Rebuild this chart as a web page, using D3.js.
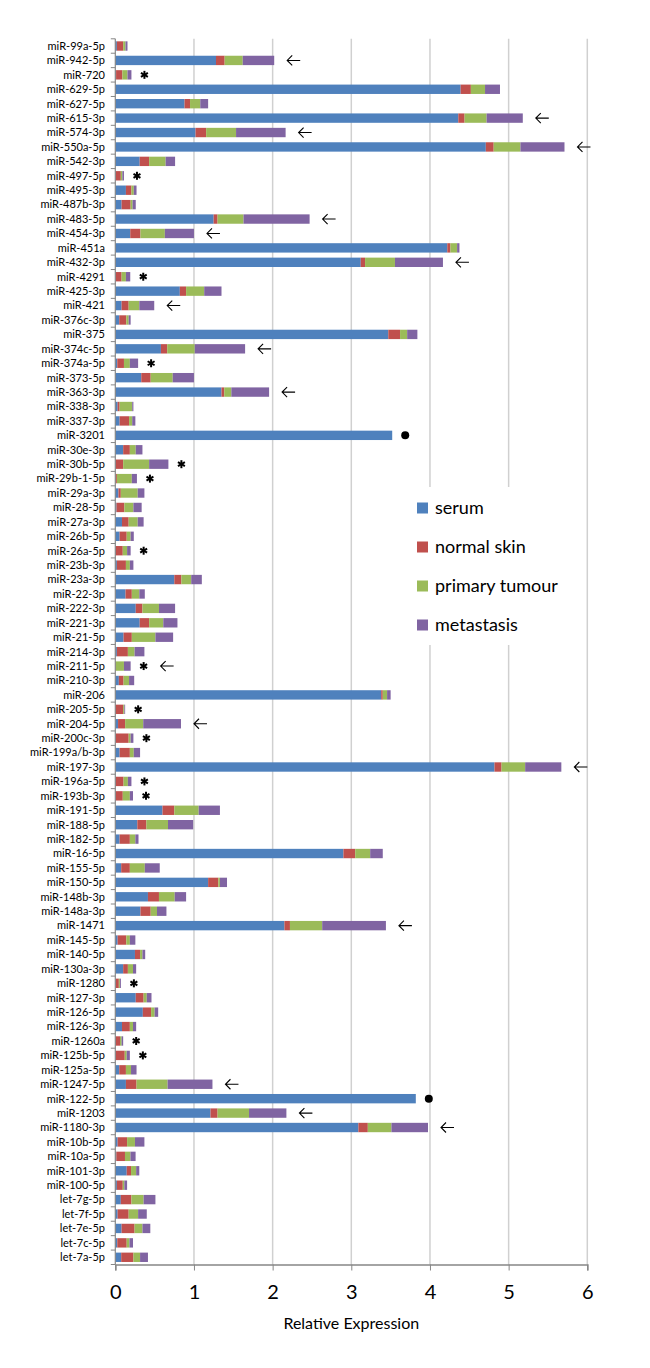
<!DOCTYPE html>
<html>
<head>
<meta charset="utf-8">
<script src="https://cdn.jsdelivr.net/npm/d3@7/dist/d3.min.js"></script>
<style>
  html, body { margin: 0; padding: 0; background: #fff; }
  svg { display: block; }
  text { font-family: Lato, "Open Sans", sans-serif; fill: #000; }
</style>
</head>
<body>
<svg id="chart" width="650" height="1368"></svg>
<script>
const categories = ["miR-99a-5p","miR-942-5p","miR-720","miR-629-5p","miR-627-5p","miR-615-3p","miR-574-3p","miR-550a-5p","miR-542-3p","miR-497-5p","miR-495-3p","miR-487b-3p","miR-483-5p","miR-454-3p","miR-451a","miR-432-3p","miR-4291","miR-425-3p","miR-421","miR-376c-3p","miR-375","miR-374c-5p","miR-374a-5p","miR-373-5p","miR-363-3p","miR-338-3p","miR-337-3p","miR-3201","miR-30e-3p","miR-30b-5p","miR-29b-1-5p","miR-29a-3p","miR-28-5p","miR-27a-3p","miR-26b-5p","miR-26a-5p","miR-23b-3p","miR-23a-3p","miR-22-3p","miR-222-3p","miR-221-3p","miR-21-5p","miR-214-3p","miR-211-5p","miR-210-3p","miR-206","miR-205-5p","miR-204-5p","miR-200c-3p","miR-199a/b-3p","miR-197-3p","miR-196a-5p","miR-193b-3p","miR-191-5p","miR-188-5p","miR-182-5p","miR-16-5p","miR-155-5p","miR-150-5p","miR-148b-3p","miR-148a-3p","miR-1471","miR-145-5p","miR-140-5p","miR-130a-3p","miR-1280","miR-127-3p","miR-126-5p","miR-126-3p","miR-1260a","miR-125b-5p","miR-125a-5p","miR-1247-5p","miR-122-5p","miR-1203","miR-1180-3p","miR-10b-5p","miR-10a-5p","miR-101-3p","miR-100-5p","let-7g-5p","let-7f-5p","let-7e-5p","let-7c-5p","let-7a-5p"];

const serum = [0.02,1.28,0.01,4.39,0.88,4.36,1.02,4.71,0.31,0.005,0.135,0.08,1.25,0.19,4.22,3.12,0.005,0.82,0.08,0.05,3.47,0.58,0.025,0.33,1.35,0.03,0.055,3.52,0.10,0.005,0.005,0.04,0.015,0.085,0.055,0.005,0.02,0.75,0.13,0.26,0.31,0.105,0.02,0,0.045,3.38,0,0.035,0.005,0.055,4.82,0.005,0.005,0.60,0.28,0.055,2.90,0.075,1.18,0.415,0.32,2.15,0.03,0.25,0.10,0.005,0.26,0.35,0.085,0.005,0.005,0.05,0.135,3.82,1.21,3.09,0.03,0.013,0.145,0.02,0.07,0.03,0.08,0.025,0.075];

const normalSkin = [0.08,0.11,0.08,0.13,0.07,0.08,0.135,0.10,0.12,0.065,0.07,0.115,0.05,0.13,0.04,0.055,0.075,0.08,0.09,0.09,0.15,0.08,0.085,0.12,0.035,0.025,0.12,0,0.085,0.095,0.015,0.03,0.10,0.085,0.09,0.09,0.115,0.09,0.08,0.085,0.12,0.105,0.14,0.005,0.06,0.02,0.10,0.09,0.165,0.13,0.09,0.10,0.09,0.15,0.115,0.13,0.15,0.11,0.13,0.14,0.13,0.07,0.11,0.065,0.06,0.04,0.10,0.105,0.10,0.055,0.115,0.085,0.135,0,0.09,0.12,0.12,0.11,0.055,0.075,0.135,0.14,0.165,0.12,0.155];

const primaryTumour = [0.03,0.23,0.065,0.18,0.13,0.28,0.38,0.34,0.21,0.02,0.03,0.025,0.33,0.31,0.085,0.38,0.055,0.23,0.135,0.03,0.09,0.35,0.075,0.28,0.09,0.16,0.04,0,0.075,0.33,0.19,0.215,0.115,0.115,0.05,0.055,0.05,0.125,0.095,0.21,0.18,0.30,0.085,0.105,0.07,0.055,0.015,0.23,0.025,0.05,0.30,0.055,0.09,0.31,0.275,0.07,0.19,0.19,0.02,0.20,0.08,0.41,0.045,0.03,0.065,0.013,0.04,0.045,0.04,0.02,0.025,0.065,0.395,0,0.40,0.30,0.10,0.07,0.065,0.02,0.155,0.12,0.10,0.035,0.085];

const metastasis = [0.025,0.40,0.05,0.19,0.10,0.46,0.63,0.56,0.12,0.02,0.035,0.04,0.84,0.37,0.03,0.61,0.055,0.22,0.19,0.025,0.13,0.64,0.105,0.27,0.48,0.015,0.04,0,0.085,0.245,0.065,0.085,0.105,0.075,0.04,0.045,0.045,0.135,0.07,0.205,0.18,0.225,0.125,0.085,0.065,0.045,0.01,0.48,0.035,0.08,0.46,0.045,0.04,0.27,0.32,0.04,0.16,0.19,0.09,0.145,0.12,0.81,0.07,0.035,0.04,0.013,0.06,0.045,0.04,0.02,0.04,0.07,0.57,0,0.475,0.465,0.12,0.065,0.04,0.035,0.15,0.11,0.10,0.045,0.10];

const seriesNames = ["serum","normal skin","primary tumour","metastasis"];
const seriesColors = ["#4F81BD","#C0504D","#9BBB59","#8064A2"];
const xTicks = [0,1,2,3,4,5,6];
const xLabel = "Relative Expression";

const arrowCats = ["miR-942-5p","miR-615-3p","miR-574-3p","miR-550a-5p","miR-483-5p","miR-454-3p","miR-432-3p","miR-421","miR-374c-5p","miR-363-3p","miR-211-5p","miR-204-5p","miR-197-3p","miR-1471","miR-1247-5p","miR-1203","miR-1180-3p"];
const starCats = ["miR-720","miR-497-5p","miR-4291","miR-374a-5p","miR-30b-5p","miR-29b-1-5p","miR-26a-5p","miR-211-5p","miR-205-5p","miR-200c-3p","miR-196a-5p","miR-193b-3p","miR-1280","miR-1260a","miR-125b-5p"];
const dotCats = ["miR-3201","miR-122-5p"];

const rows = categories.map((c, i) => ({
  cat: c,
  "serum": serum[i],
  "normal skin": normalSkin[i],
  "primary tumour": primaryTumour[i],
  "metastasis": metastasis[i]
}));

const svg = d3.select("#chart");
const plotLeft = 115.3, plotRight = 587.3, plotTop = 38.8, plotBottom = 1264.5;

const x = d3.scaleLinear().domain([0, 6]).range([plotLeft, plotRight]);
const y = d3.scaleBand().domain(categories).range([plotTop, plotBottom]).paddingInner(0.35).paddingOuter(0.175);
const color = d3.scaleOrdinal().domain(seriesNames).range(seriesColors);

// gridlines
svg.append("g").selectAll("line").data(xTicks.filter(d => d > 0)).join("line")
  .attr("x1", d => x(d)).attr("x2", d => x(d))
  .attr("y1", plotTop).attr("y2", plotBottom)
  .attr("stroke", "#d0d0d0").attr("stroke-width", 1.5);

// stacked bars
const stack = d3.stack().keys(seriesNames);
const stacked = stack(rows);
svg.append("g").selectAll("g").data(stacked).join("g")
  .attr("fill", d => color(d.key))
  .selectAll("rect").data(d => d).join("rect")
  .attr("x", d => x(d[0]))
  .attr("y", d => y(d.data.cat))
  .attr("width", d => Math.max(0, x(d[1]) - x(d[0])))
  .attr("height", y.bandwidth());

// legend with white background
const lg = svg.append("g");
lg.append("rect").attr("x", 410).attr("y", 487).attr("width", 173).attr("height", 158).attr("fill", "#fff");
seriesNames.forEach((s, i) => {
  const cy = 508 + i * 39;
  lg.append("rect").attr("x", 417).attr("y", cy - 5.5).attr("width", 11).attr("height", 11).attr("fill", color(s));
  lg.append("text").attr("x", 435).attr("y", cy).attr("dy", "0.35em")
    .style("font-size", "18px").text(s);
});

// y axis
const yAxis = svg.append("g");
yAxis.append("line").attr("x1", plotLeft).attr("x2", plotLeft).attr("y1", plotTop).attr("y2", plotBottom)
  .attr("stroke", "#878787").attr("stroke-width", 1.2);
const bounds = d3.range(categories.length + 1).map(i => plotTop + i * y.step());
yAxis.selectAll("line.tick").data(bounds).join("line").attr("class", "tick")
  .attr("x1", plotLeft - 4.5).attr("x2", plotLeft).attr("y1", d => d).attr("y2", d => d)
  .attr("stroke", "#878787").attr("stroke-width", 1);
yAxis.selectAll("text").data(categories).join("text")
  .attr("x", 105).attr("y", d => y(d) + y.bandwidth() / 2).attr("dy", "0.35em")
  .attr("text-anchor", "end").style("font-size", "11px").text(d => d);

// x axis
const xAxis = svg.append("g").attr("transform", `translate(0,${plotBottom})`)
  .call(d3.axisBottom(x).tickValues(xTicks).tickSize(6).tickPadding(14).tickFormat(d3.format("d")));
xAxis.select(".domain").attr("stroke", "#878787").attr("stroke-width", 1.5);
xAxis.selectAll(".tick line").attr("stroke", "#878787");
xAxis.selectAll(".tick text").style("font-size", "20px").style("font-family", "Lato, 'Open Sans', sans-serif").attr("fill", "#000");

svg.append("text").attr("x", (x(0) + x(6)) / 2).attr("y", 1328.7)
  .attr("text-anchor", "middle").style("font-size", "16px").text(xLabel);

// markers
const total = c => { const i = categories.indexOf(c); return serum[i] + normalSkin[i] + primaryTumour[i] + metastasis[i]; };
const mk = svg.append("g");
starCats.forEach(c => {
  const cx = x(total(c)) + 13, cy = y(c) + y.bandwidth() / 2;
  [90, 30, 150].forEach(a => {
    const r = 4, rad = a * Math.PI / 180;
    mk.append("line")
      .attr("x1", cx - r * Math.cos(rad)).attr("y1", cy - r * Math.sin(rad))
      .attr("x2", cx + r * Math.cos(rad)).attr("y2", cy + r * Math.sin(rad))
      .attr("stroke", "#000").attr("stroke-width", 2);
  });
});
arrowCats.forEach(c => {
  const ax = x(total(c)) + (starCats.includes(c) ? 30 : 13), cy = y(c) + y.bandwidth() / 2;
  mk.append("path")
    .attr("d", `M${ax + 13},${cy} H${ax} M${ax + 5},${cy - 5} L${ax},${cy} L${ax + 5},${cy + 5}`)
    .attr("fill", "none").attr("stroke", "#000").attr("stroke-width", 1.1);
});
dotCats.forEach(c => {
  mk.append("circle").attr("cx", x(total(c)) + 13).attr("cy", y(c) + y.bandwidth() / 2).attr("r", 4).attr("fill", "#000");
});
</script>
</body>
</html>
